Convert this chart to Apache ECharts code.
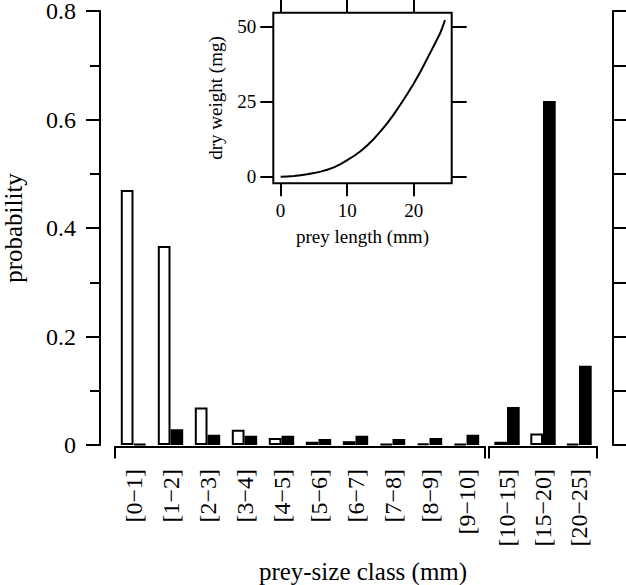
<!DOCTYPE html>
<html>
<head>
<meta charset="utf-8">
<script src="https://cdn.jsdelivr.net/npm/echarts@6/dist/echarts.min.js"></script>
<style>html,body{margin:0;padding:0;background:#fff}#c{width:626px;height:585px}</style>
</head>
<body>
<div id="c"></div>
<script>
// ---- data ----
const leftCategories = ['[0\u22121]','[1\u22122]','[2\u22123]','[3\u22124]','[4\u22125]','[5\u22126]','[6\u22127]','[7\u22128]','[8\u22129]','[9\u221210]'];
const rightCategories = ['[10\u221215]','[15\u221220]','[20\u221225]'];
const leftWhite = [0.470, 0.367, 0.069, 0.028, 0.013, 0.006, 0.007, 0.002, 0.003, 0.002];
const leftBlack = [0.002, 0.029, 0.019, 0.017, 0.017, 0.011, 0.017, 0.011, 0.013, 0.019];
const rightWhite = [0.006, 0.021, 0.002];
const rightBlack = [0.070, 0.634, 0.146];
const yTickLabels = ['0', '0.2', '0.4', '0.6', '0.8'];
const insetLength = [0,1,2,3,4,5,6,7,8,9,10,11,12,13,14,15,16,17,18,19,20,21,22,23,24,24.7];
const insetWeight = [0,0.1,0.2,0.5,0.8,1.2,1.7,2.3,3.1,4.2,5.5,6.9,8.5,10.4,12.6,15.1,17.8,20.8,24.1,27.5,31.1,35.0,39.3,43.6,48.0,52.2];
const insetXTicks = [0, 10, 20];
const insetYTicks = [0, 25, 50];

const FONT = 'Liberation Serif';
const BLK = '#000';
const chart = echarts.init(document.getElementById('c'), null, {renderer: 'svg'});

const tickStyle = {color: BLK, width: 2};
const lineOn = {show: true, onZero: false, lineStyle: tickStyle};
const lineOff = {show: false, onZero: false};
const whiteBar = {color: '#fff', borderColor: BLK, borderWidth: 2};
const blackBar = {color: BLK, borderColor: BLK, borderWidth: 2};

const option = {
  animation: false,
  backgroundColor: '#fff',
  textStyle: {fontFamily: FONT, color: BLK},
  title: {
    text: 'prey-size class (mm)',
    left: 358, top: 553, textAlign: 'center',
    textStyle: {fontFamily: FONT, fontSize: 25, lineHeight: 27, fontWeight: 'normal', color: BLK}
  },
  grid: [
    {left: 115, top: 11, width: 370, bottom: 140, outerBoundsMode: 'none', containLabel: false},
    {left: 489, top: 11, width: 108, bottom: 140, outerBoundsMode: 'none', containLabel: false},
    {left: 273.3, top: 12.7, width: 178.4, height: 170.6, outerBoundsMode: 'none', containLabel: false,
     show: true, borderColor: BLK, borderWidth: 2, backgroundColor: 'transparent'}
  ],
  xAxis: [
    {gridIndex: 0, type: 'category', data: leftCategories, position: 'bottom',
     axisLine: lineOff, axisTick: {show: false},
     axisLabel: {rotate: 90, margin: 24, fontSize: 24, color: BLK, fontFamily: FONT, interval: 0}},
    {gridIndex: 0, type: 'value', min: 0, max: 1, interval: 1, position: 'bottom', offset: 1.5,
     axisLine: lineOn, axisTick: {show: true, length: 12, lineStyle: tickStyle},
     axisLabel: {show: false}, splitLine: {show: false}},
    {gridIndex: 1, type: 'category', data: rightCategories, position: 'bottom',
     axisLine: lineOff, axisTick: {show: false},
     axisLabel: {rotate: 90, margin: 24, fontSize: 24, color: BLK, fontFamily: FONT, interval: 0}},
    {gridIndex: 1, type: 'value', min: 0, max: 1, interval: 1, position: 'bottom', offset: 1.5,
     axisLine: lineOn, axisTick: {show: true, length: 12, lineStyle: tickStyle},
     axisLabel: {show: false}, splitLine: {show: false}},
    {gridIndex: 2, type: 'value', min: -1.1, max: 25.7, position: 'bottom',
     axisLine: lineOff,
     axisTick: {show: true, length: 13, lineStyle: tickStyle, customValues: insetXTicks},
     axisLabel: {fontSize: 19, margin: 18, color: BLK, fontFamily: FONT, customValues: insetXTicks},
     splitLine: {show: false},
     name: 'prey length (mm)', nameLocation: 'middle', nameGap: 44,
     nameTextStyle: {fontSize: 19, fontFamily: FONT, color: BLK}},
    {gridIndex: 2, type: 'value', min: -1.1, max: 25.7, position: 'top',
     axisLine: lineOff,
     axisTick: {show: true, length: 13, lineStyle: tickStyle, customValues: insetXTicks},
     axisLabel: {show: false}, splitLine: {show: false}}
  ],
  yAxis: [
    {gridIndex: 0, type: 'value', min: 0, max: 0.8, interval: 0.2, position: 'left', offset: 15,
     axisLine: lineOn,
     axisTick: {show: true, length: 14, lineStyle: tickStyle},
     minorTick: {show: true, splitNumber: 2, length: 10, lineStyle: tickStyle},
     splitLine: {show: false}, minorSplitLine: {show: false},
     axisLabel: {fontSize: 24, lineHeight: 20, margin: 24, color: BLK, fontFamily: FONT,
       formatter: (v) => yTickLabels[Math.round(v / 0.2)]},
     name: 'probability', nameLocation: 'middle', nameGap: 74,
     nameTextStyle: {fontSize: 25, fontFamily: FONT, color: BLK}},
    {gridIndex: 1, type: 'value', min: 0, max: 0.8, interval: 0.1, position: 'right', offset: 16,
     axisLine: lineOn,
     axisTick: {show: true, length: 13, lineStyle: tickStyle},
     axisLabel: {show: false}, splitLine: {show: false}},
    {gridIndex: 2, type: 'value', min: -2.2, max: 54.7, position: 'left',
     axisLine: lineOff,
     axisTick: {show: true, length: 13, lineStyle: tickStyle, customValues: insetYTicks},
     axisLabel: {fontSize: 19, margin: 17, color: BLK, fontFamily: FONT, customValues: insetYTicks},
     splitLine: {show: false},
     name: 'dry weight (mg)', nameLocation: 'middle', nameGap: 48,
     nameTextStyle: {fontSize: 19, fontFamily: FONT, color: BLK}},
    {gridIndex: 2, type: 'value', min: -2.2, max: 54.7, position: 'right',
     axisLine: lineOff,
     axisTick: {show: true, length: 15, lineStyle: tickStyle, customValues: insetYTicks},
     axisLabel: {show: false}, splitLine: {show: false}}
  ],
  series: [
    {type: 'bar', xAxisIndex: 0, yAxisIndex: 0, data: leftWhite, barWidth: 12.7, barGap: '0%', itemStyle: whiteBar},
    {type: 'bar', xAxisIndex: 0, yAxisIndex: 0, data: leftBlack, barWidth: 12.7, barGap: '0%', itemStyle: blackBar},
    {type: 'bar', xAxisIndex: 2, yAxisIndex: 1, data: rightWhite, barWidth: 12.7, barGap: '0%', itemStyle: whiteBar},
    {type: 'bar', xAxisIndex: 2, yAxisIndex: 1, data: rightBlack, barWidth: 12.7, barGap: '0%', itemStyle: blackBar},
    {type: 'line', xAxisIndex: 4, yAxisIndex: 2, showSymbol: false, symbol: 'none',
     lineStyle: {color: BLK, width: 2},
     data: insetLength.map((x, i) => [x, insetWeight[i]])}
  ]
};
chart.setOption(option);
</script>
</body>
</html>
